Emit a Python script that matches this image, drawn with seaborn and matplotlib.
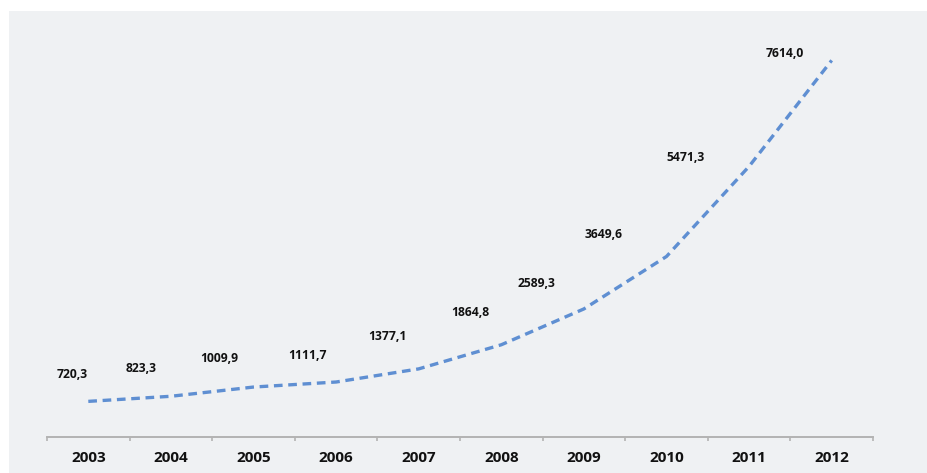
import matplotlib
matplotlib.use("Agg")
import matplotlib.pyplot as plt
from matplotlib.patches import Rectangle
import seaborn as sns
import pandas as pd

years = ["2003", "2004", "2005", "2006", "2007", "2008", "2009", "2010", "2011", "2012"]
values = [720.3, 823.3, 1009.9, 1111.7, 1377.1, 1864.8, 2589.3, 3649.6, 5471.3, 7614.0]
value_labels = ["720,3", "823,3", "1009,9", "1111,7", "1377,1", "1864,8", "2589,3", "3649,6", "5471,3", "7614,0"]

# label offsets (pixels) relative to each point — layout only
label_dx = [-16, -30, -34, -29, -31, -31, -47, -63, -64, -47]
label_dy = [27, 28, 29, 27, 32, 32, 25, 22, 9, 7]

sns.set_theme(style="white")
plt.rcParams['font.family'] = ['Open Sans', 'DejaVu Sans']

W, H = 928, 473
fig = plt.figure(figsize=(W / 100, H / 100), dpi=100, facecolor="white")
bg = "#eff1f3"
fig.patches.append(Rectangle((9 / W, 0), 1 - 9 / W, 1 - 11 / H, transform=fig.transFigure,
                             facecolor=bg, edgecolor="none", zorder=-10))

ymax = 8000
ax_bottom_px = 437
ax_top_px = ax_bottom_px - ymax * (341 / (7614.0 - 720.3))
ax = fig.add_axes([47 / W, (H - ax_bottom_px) / H, 826 / W, (ax_bottom_px - ax_top_px) / H])
ax.set_facecolor("none")
ax.set_zorder(5)

df = pd.DataFrame({"x": range(len(years)), "value": values})
sns.lineplot(data=df, x="x", y="value", ax=ax, color="#5f8fd2", linewidth=2.4)
ax.lines[0].set_dashes([2.6, 1.7])

for i, (v, lab) in enumerate(zip(values, value_labels)):
    ax.annotate(lab, (i, v), xytext=(label_dx[i], label_dy[i]), textcoords="offset pixels",
                ha="center", va="center", fontsize=8.7, fontweight="bold", color="#111111")

ax.set_xlim(-0.5, len(years) - 0.5)
ax.set_ylim(0, ymax)
ax.set_xticks(range(len(years)))
ax.set_xticklabels(years, fontsize=11, fontweight="bold", color="#111111")
ax.set_xticks([i - 0.5 for i in range(len(years) + 1)], minor=True)
ax.tick_params(axis="x", which="major", length=0, pad=10, bottom=True)
ax.tick_params(axis="x", which="minor", length=3, width=1.2, color="#b3b3b3", direction="out", bottom=True)
ax.set_yticks([])
ax.set_xlabel("")
ax.set_ylabel("")
for s in ["top", "right", "left"]:
    ax.spines[s].set_visible(False)
ax.spines["bottom"].set_color("#b3b3b3")
ax.spines["bottom"].set_linewidth(1.4)

fig.savefig("out.png", dpi=100, facecolor="white")
